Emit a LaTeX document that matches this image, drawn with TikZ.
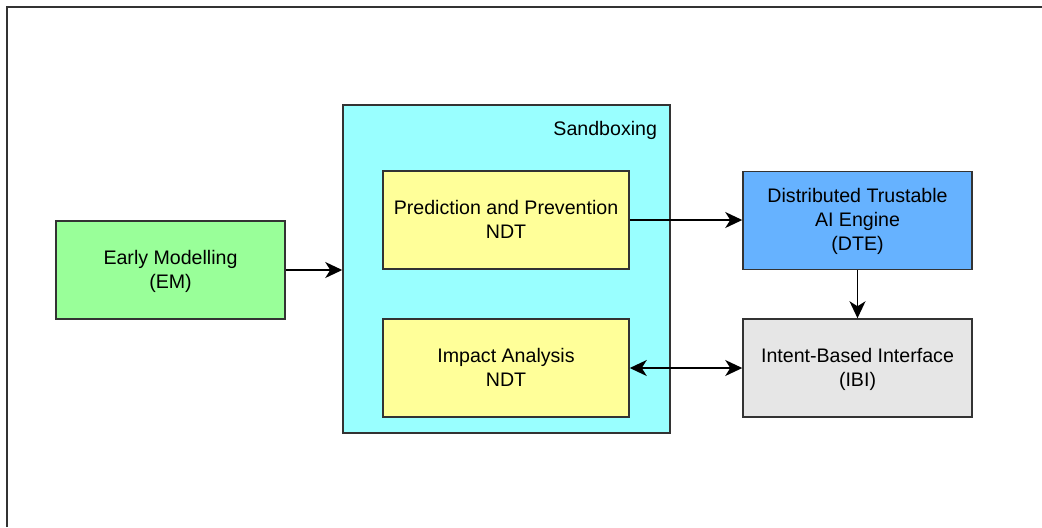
\documentclass[tikz,border=0pt]{standalone}
\usepackage{fontspec}
\setmainfont{Liberation Sans}
\usepackage{xcolor}
\usepackage{tikz}
\usetikzlibrary{arrows.meta,calc,positioning}
\definecolor{EmGreen}{HTML}{99FF99}
\definecolor{SandCyan}{HTML}{99FFFF}
\definecolor{NdtYellow}{HTML}{FFFF99}
\definecolor{DteBlue}{HTML}{66B2FF}
\definecolor{IbiGray}{HTML}{E6E6E6}
\definecolor{Ink}{HTML}{333333}
\tikzset{
  every picture/.style={line width=0.75pt},
  blockbox/.style={
    draw=Ink,
    align=center,
    font=\fontsize{9.8}{12}\selectfont,
    minimum width=114.5pt,
    minimum height=49pt,
    inner sep=2pt,
    text depth=1pt
  },
  embox/.style={blockbox, fill=EmGreen},
  ndtbox/.style={blockbox, fill=NdtYellow, minimum width=123pt},
  dtebox/.style={blockbox, fill=DteBlue},
  ibibox/.style={blockbox, fill=IbiGray},
  sandbox/.style={draw=Ink, fill=SandCyan, minimum width=163.5pt, minimum height=164pt},
  tip/.tip={Stealth[length=8.5pt,width=8pt,inset=2.5pt]},
  flowarrow/.style={-tip, draw=black},
  bothways/.style={tip-tip, draw=black}
}

\begin{document}
\begin{tikzpicture}[x=0.5pt,y=-0.5pt]
  \useasboundingbox (0,0) rectangle (1042,527);
  % open frame, only top and left edges show
  \draw[draw=Ink, line width=1.1pt] (7,527) -- (7,7) -- (1042,7);

  \node[sandbox] (sand) at (506.5,269) {};
  \node[anchor=north east, font=\fontsize{9.8}{12}\selectfont, inner sep=0pt]
    at ($(sand.north east)+(-13,16)$) {Sandboxing};

  \node[embox] (em) at (170.5,270) {Early Modelling\\(EM)};
  \node[ndtbox] (pred) at (506,220) {Prediction and Prevention\\NDT};
  \node[ndtbox] (impact) at (506,368) {Impact Analysis\\NDT};
  \node[dtebox] (dte) at (857.5,220.5) {Distributed Trustable\\AI Engine\\(DTE)};
  \node[ibibox] (ibi) at (857.5,368) {Intent-Based Interface\\(IBI)};

  \draw[flowarrow] (em.east) -- (em.east -| sand.west);
  \draw[flowarrow] (pred.east) -- (pred.east -| dte.west);
  \draw[flowarrow] (dte.south) -- (ibi.north);
  \draw[bothways] (impact.east) -- (ibi.west);
\end{tikzpicture}
\end{document}
